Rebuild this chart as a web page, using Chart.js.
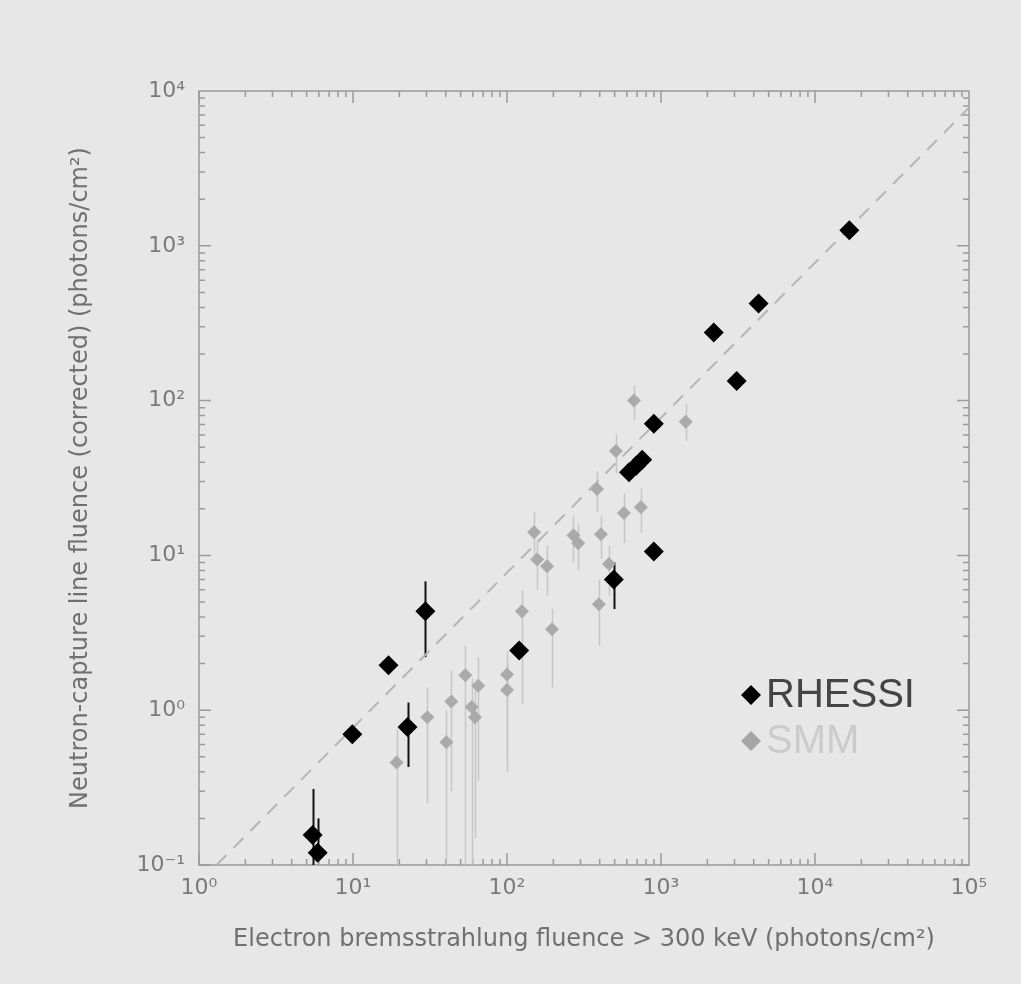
<!DOCTYPE html>
<html>
<head>
<meta charset="utf-8">
<script src="https://cdn.jsdelivr.net/npm/chart.js@4.4.1/dist/chart.umd.min.js"></script>
<style>
    html, body { margin: 0; padding: 0; background: #e7e7e7; }
    canvas { display: block; }
</style>
</head>
<body>
<canvas id="chart" width="1021" height="984"></canvas>
<script>
// RHESSI flares (black diamonds)
const rhessiX    = [5.47, 5.9, 9.9, 17.0, 22.6, 29.5, 120, 494, 898, 620, 690, 755, 898, 3100, 2200, 4300, 16700];
const rhessiY    = [0.156, 0.12, 0.70, 1.95, 0.78, 4.35, 2.43, 7.0, 10.6, 34.5, 38, 41.5, 70.8, 134, 275, 424, 1260];
const rhessiLow  = [0.1, null, null, null, 0.43, 2.2, null, 4.5, null, null, null, null, null, null, null, null, null];
const rhessiHigh = [0.31, 0.2, null, null, 1.12, 6.8, null, 9.0, null, null, null, null, null, null, null, null, null];

// SMM flares (grey)
const smmX    = [19.2, 30.4, 40.4, 43.5, 53.6, 65, 59, 62, 100, 100, 125, 196, 395, 459, 150, 157, 182, 270, 290, 407, 384, 574, 740, 510, 667, 1448];
const smmY    = [0.46, 0.9, 0.62, 1.14, 1.68, 1.44, 1.05, 0.9, 1.7, 1.35, 4.35, 3.33, 4.83, 8.8, 14.1, 9.4, 8.5, 13.5, 12, 13.7, 26.8, 18.8, 20.5, 47.3, 100, 72.9];
const smmLow  = [0.1, 0.25, 0.1, 0.3, 0.1, 0.35, 0.1, 0.15, 0.5, 0.4, 1.1, 1.4, 2.6, 5.5, 9, 6, 5.5, 9, 8, 9.5, 19, 12, 14, 34, 75, 55];
const smmHigh = [0.75, 1.4, 1.0, 1.8, 2.6, 2.2, 1.6, 1.4, 2.4, 2.0, 6, 4.5, 7, 11.5, 19, 12.5, 11.5, 18, 16, 18, 35, 25, 27, 60, 125, 95];

// dashed reference line
const lineX = [1.3, 100000];
const lineY = [0.1, 7800];

const xTicks = [1, 10, 100, 1000, 10000, 100000];
const yTicks = [0.1, 1, 10, 100, 1000, 10000];
const supers = { '-1': '⁻¹', '0': '⁰', '1': '¹', '2': '²', '3': '³', '4': '⁴', '5': '⁵' };

function powLabel(v) {
    const e = Math.round(Math.log10(v));
    return '10' + supers[String(e)];
}

const pts = (xs, ys) => xs.map((x, i) => ({ x: x, y: ys[i] }));

const axisColor = '#9a9a9a';

// error bars drawn under the markers
const errorBars = {
    id: 'errorBars',
    beforeDatasetsDraw(chart) {
        const { ctx, scales: { x, y }, chartArea } = chart;
        ctx.save();
        ctx.beginPath();
        ctx.rect(chartArea.left, chartArea.top, chartArea.right - chartArea.left, chartArea.bottom - chartArea.top);
        ctx.clip();
        chart.data.datasets.forEach(ds => {
            if (!ds.errLow) return;
            ctx.strokeStyle = ds.errColor;
            ctx.lineWidth = ds.errWidth;
            ds.data.forEach((p, i) => {
                const lo = ds.errLow[i] == null ? p.y : ds.errLow[i];
                const hi = ds.errHigh[i] == null ? p.y : ds.errHigh[i];
                if (lo === hi) return;
                const px = Math.round(x.getPixelForValue(p.x)) + 0.5;
                ctx.beginPath();
                ctx.moveTo(px, y.getPixelForValue(lo));
                ctx.lineTo(px, y.getPixelForValue(hi));
                ctx.stroke();
            });
        });
        ctx.restore();
    }
};

// IDL-style box with inward ticks on all four sides
const boxTicks = {
    id: 'boxTicks',
    beforeDatasetsDraw(chart) {
        const { ctx, scales: { x, y }, chartArea: a } = chart;
        ctx.save();
        ctx.strokeStyle = axisColor;
        ctx.lineWidth = 1.5;
        ctx.strokeRect(a.left, a.top, a.right - a.left, a.bottom - a.top);
        const tickList = (min, max) => {
            const out = [];
            for (let d = Math.round(Math.log10(min)); d < Math.round(Math.log10(max)); d++) {
                for (let k = 1; k < 10; k++) out.push({ v: k * Math.pow(10, d), major: k === 1 });
            }
            return out;
        };
        ctx.beginPath();
        tickList(x.min, x.max).forEach(t => {
            const px = x.getPixelForValue(t.v);
            const len = t.major ? 12 : 6;
            ctx.moveTo(px, a.bottom); ctx.lineTo(px, a.bottom - len);
            ctx.moveTo(px, a.top); ctx.lineTo(px, a.top + len);
        });
        tickList(y.min, y.max).forEach(t => {
            const py = y.getPixelForValue(t.v);
            const len = t.major ? 12 : 6;
            ctx.moveTo(a.left, py); ctx.lineTo(a.left + len, py);
            ctx.moveTo(a.right, py); ctx.lineTo(a.right - len, py);
        });
        ctx.stroke();
        ctx.restore();
    }
};

// legend inside the plot, lower right
const insideLegend = {
    id: 'insideLegend',
    afterDraw(chart) {
        const { ctx, chartArea: a } = chart;
        const rows = [
            { label: 'RHESSI', marker: '#000000', text: '#444444', dy: 604 },
            { label: 'SMM', marker: '#a6a6a6', text: '#cbcbcb', dy: 650 }
        ];
        ctx.save();
        ctx.font = '40px "Liberation Sans", Arial, sans-serif';
        ctx.textBaseline = 'middle';
        rows.forEach(r => {
            const cx = a.left + 552, cy = a.top + r.dy;
            ctx.fillStyle = r.marker;
            ctx.beginPath();
            ctx.moveTo(cx - 10, cy); ctx.lineTo(cx, cy - 10); ctx.lineTo(cx + 10, cy); ctx.lineTo(cx, cy + 10);
            ctx.closePath();
            ctx.fill();
            ctx.fillStyle = r.text;
            ctx.fillText(r.label, cx + 15, cy + 1);
        });
        ctx.restore();
    }
};

const tickFont = { family: '"DejaVu Sans", sans-serif', size: 22 };
const titleFont = { family: '"DejaVu Sans", sans-serif', size: 24 };

new Chart(document.getElementById('chart'), {
    type: 'scatter',
    data: {
        datasets: [
            {
                label: 'RHESSI',
                data: pts(rhessiX, rhessiY),
                errLow: rhessiLow, errHigh: rhessiHigh,
                errColor: '#111111', errWidth: 2,
                pointStyle: 'rectRot', pointRadius: 10,
                backgroundColor: '#000000', borderColor: '#000000', borderWidth: 0,
                order: 0
            },
            {
                label: 'SMM',
                data: pts(smmX, smmY),
                errLow: smmLow, errHigh: smmHigh,
                errColor: '#c6c6c6', errWidth: 1.5,
                pointStyle: 'rectRot', pointRadius: 7,
                backgroundColor: '#aaaaaa', borderColor: '#aaaaaa', borderWidth: 0,
                order: 1
            },
            {
                type: 'line',
                label: 'fit',
                data: pts(lineX, lineY),
                borderColor: '#b5b5b5', borderWidth: 2, borderDash: [14, 10],
                pointRadius: 0, fill: false,
                order: 2
            }
        ]
    },
    options: {
        responsive: false,
        animation: false,
        layout: { padding: { top: 91, right: 52, left: 0, bottom: 0 } },
        plugins: { legend: { display: false }, tooltip: { enabled: false } },
        scales: {
            x: {
                type: 'logarithmic', min: 1, max: 100000,
                afterFit: s => { s.height = 119; },
                afterBuildTicks: s => { s.ticks = xTicks.map(v => ({ value: v })); },
                ticks: { callback: v => powLabel(v), font: tickFont, color: '#7a7a7a', padding: 10, maxRotation: 0, autoSkip: false },
                grid: { display: false, drawTicks: false },
                border: { display: false },
                title: {
                    display: true,
                    text: 'Electron bremsstrahlung fluence > 300 keV (photons/cm²)',
                    font: titleFont, color: '#707070',
                    padding: { top: 0, bottom: 30 }
                }
            },
            y: {
                type: 'logarithmic', min: 0.1, max: 10000,
                afterFit: s => { s.width = 199; },
                afterBuildTicks: s => { s.ticks = yTicks.map(v => ({ value: v })); },
                ticks: { callback: v => powLabel(v), font: tickFont, color: '#7a7a7a', padding: 14, autoSkip: false },
                grid: { display: false, drawTicks: false },
                border: { display: false },
                title: {
                    display: true,
                    text: 'Neutron-capture line fluence (corrected) (photons/cm²)',
                    font: titleFont, color: '#707070',
                    padding: { top: 66, bottom: 0 }
                }
            }
        }
    },
    plugins: [boxTicks, errorBars, insideLegend]
});
</script>
</body>
</html>
